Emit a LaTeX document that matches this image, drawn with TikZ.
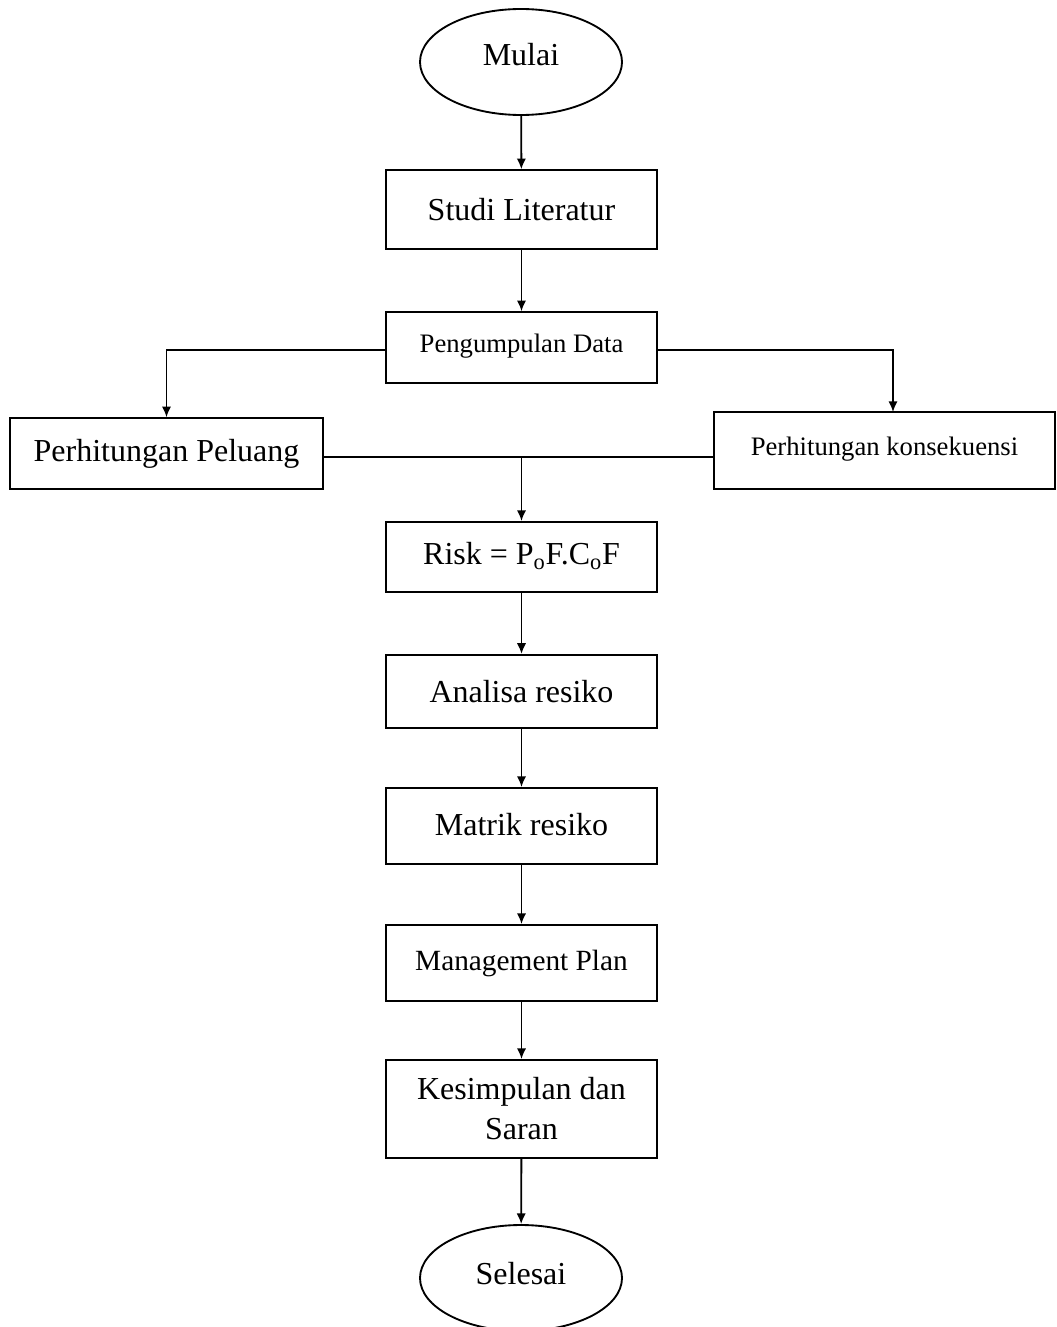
\documentclass[tikz,border=0pt]{standalone}
\usepackage{fontspec}
\setmainfont{Liberation Serif}
\usetikzlibrary{arrows.meta,shapes.geometric,positioning}
\tikzset{
  flowbox/.style={draw,line width=1.4pt,rectangle,minimum width=203pt,
    inner sep=2pt,align=center,font=\fontsize{24}{30}\selectfont},
  terminal/.style={draw,line width=1.4pt,ellipse,minimum width=151.5pt,
    minimum height=79.5pt,inner sep=0pt,font=\fontsize{24}{28}\selectfont},
  smalltext/.style={font=\fontsize{20}{24}\selectfont},
  flowline/.style={line width=1.4pt},
  flowarrow/.style={line width=1.4pt,-{Latex[length=8pt,width=7pt]}}
}

\begin{document}
\begin{tikzpicture}[x=0.75pt,y=-0.75pt]
\useasboundingbox (0,0) rectangle (1056,1327);
\clip (0,0) rectangle (1056,1327);

% terminals
\node[terminal] (start) at (521,62) {\raisebox{11pt}{Mulai}};
\node[terminal] (stop) at (521,1278) {\raisebox{7pt}{Selesai}};

% main chain
\node[flowbox,minimum height=59pt] (studi) at (521.5,209.5) {Studi Literatur};
\node[flowbox,smalltext,minimum height=53pt] (data) at (521.5,347.5) {\raisebox{7pt}{Pengumpulan Data}};
\node[flowbox,minimum height=52.5pt] (risk) at (521.5,557) {\raisebox{5pt}{Risk = P\textsubscript{o}F.C\textsubscript{o}F}};
\node[flowbox,minimum height=55pt] (analisa) at (521.5,691.5) {Analisa resiko};
\node[flowbox,minimum height=57pt] (matrik) at (521.5,826) {\raisebox{3pt}{Matrik resiko}};
\node[flowbox,font=\fontsize{22}{26}\selectfont,minimum height=57pt] (plan) at (521.5,963) {Management Plan};
\node[flowbox,minimum height=73.5pt] (simpul) at (521.5,1109) {Kesimpulan dan\\Saran};

% side branches
\node[flowbox,minimum width=235pt,minimum height=53pt] (peluang) at (166.5,453.5) {\raisebox{4pt}{Perhitungan Peluang}};
\node[flowbox,smalltext,minimum width=255.5pt,minimum height=58pt] (konsek) at (884.5,450.5) {\raisebox{6pt}{Perhitungan konsekuensi}};

\coordinate (join) at (521.5,457);
\coordinate (konsektop) at (893,412);

% connectors
\draw[flowarrow] (start) -- (studi);
\draw[flowarrow] (studi) -- (data);
\draw[flowarrow] ([yshift=-2pt]data.west) -| (peluang.north);
\draw[flowarrow] ([yshift=-2pt]data.east) -| (konsektop);
\draw[flowline] (peluang.east |- join) -- (konsek.west |- join);
\draw[flowarrow] (join) -- (risk);
\draw[flowarrow] (risk) -- (analisa);
\draw[flowarrow] (analisa) -- (matrik);
\draw[flowarrow] (matrik) -- (plan);
\draw[flowarrow] (plan) -- (simpul);
\draw[flowarrow] (simpul) -- (stop);

\end{tikzpicture}
\end{document}
